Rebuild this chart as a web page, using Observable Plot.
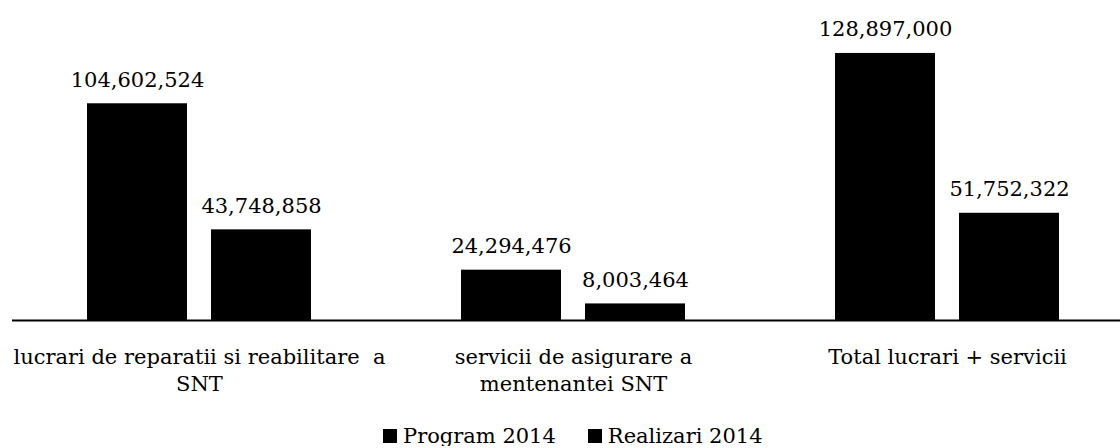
<!DOCTYPE html>
<html>
<head>
<meta charset="utf-8">
<script src="https://cdn.jsdelivr.net/npm/d3@7"></script>
<script src="https://cdn.jsdelivr.net/npm/@observablehq/plot@0.6"></script>
<style>
  body { margin: 0; background: #fff; font-family: "DejaVu Serif", serif; }
  #legend { display: flex; align-items: center; padding-left: 383px; margin-top: -2px; height: 20px; line-height: 20px; font-size: 21px; color: #000; }
  #legend .item { display: flex; align-items: center; margin-right: 32px; }
  #legend .sw { width: 14px; height: 14px; background: #000; margin-right: 6px; }
</style>
</head>
<body>
<div id="chart"></div>
<div id="legend"></div>
<script>
const categories = [
  "lucrari de reparatii si reabilitare  a SNT",
  "servicii de asigurare a mentenantei SNT",
  "Total lucrari + servicii"
];
const tickLabels = [
  "lucrari de reparatii si reabilitare  a\nSNT",
  "servicii de asigurare a\nmentenantei SNT",
  "Total lucrari + servicii"
];
const series = ["Program 2014", "Realizari 2014"];
const program2014 = [104602524, 24294476, 128897000];
const realizari2014 = [43748858, 8003464, 51752322];

const data = [];
categories.forEach((c, i) => {
  data.push({category: c, series: series[0], value: program2014[i]});
  data.push({category: c, series: series[1], value: realizari2014[i]});
});

const fmt = d3.format(",");
const labelOf = new Map(categories.map((c, i) => [c, tickLabels[i]]));

const chart = Plot.plot({
  width: 1120,
  height: 428,
  marginTop: 20,
  marginBottom: 108,
  marginLeft: 0,
  marginRight: 0,
  style: {fontFamily: "DejaVu Serif, serif", fontSize: "21px", color: "#000", background: "#fff"},
  fx: {domain: categories, range: [11.25, 1133.75], padding: 0, label: null},
  x: {domain: series, paddingInner: 0.1935, paddingOuter: 0.6028, axis: null},
  y: {domain: [0, 144.8e6], axis: null},
  marks: [
    Plot.barY(data, {fx: "category", x: "series", y: "value", fill: "#000"}),
    Plot.ruleY([0], {stroke: "#000", strokeWidth: 1.8}),
    Plot.text(data, {fx: "category", x: "series", y: "value", text: d => fmt(d.value),
      lineAnchor: "bottom", dy: -17, fontSize: 21, fill: "#000"}),
    Plot.axisFx({anchor: "bottom", tickSize: 0, tickPadding: 24, fontSize: 21, lineHeight: 1.3,
      label: null, tickFormat: d => labelOf.get(d)})
  ]
});
document.getElementById("chart").appendChild(chart);

const legend = document.getElementById("legend");
series.forEach(s => {
  const item = document.createElement("div");
  item.className = "item";
  const sw = document.createElement("div");
  sw.className = "sw";
  const t = document.createElement("span");
  t.textContent = s;
  item.appendChild(sw);
  item.appendChild(t);
  legend.appendChild(item);
});
</script>
</body>
</html>
